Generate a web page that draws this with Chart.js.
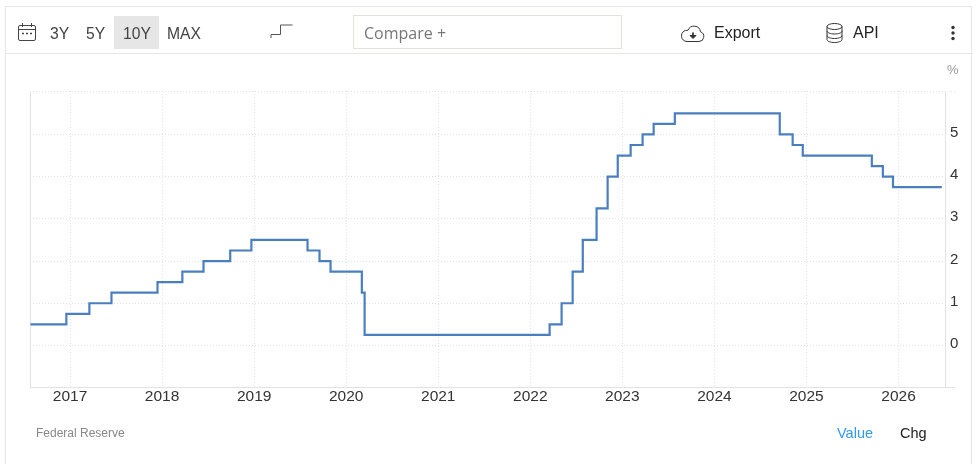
<!DOCTYPE html>
<html>
<head>
<meta charset="utf-8">
<script src="https://cdn.jsdelivr.net/npm/chart.js@4"></script>
<style>
  html, body { margin: 0; padding: 0; background: #fff; overflow: hidden; }
  #page { position: relative; width: 977px; height: 464px; overflow: hidden; }
  #frame { position: absolute; left: 5px; top: 6px; width: 967px; height: 470px; border: 1px solid #e6e6e6; box-sizing: border-box; }
  #divider { position: absolute; left: 5px; top: 53px; width: 968px; height: 1px; background: #e6e6e6; }
  #myChart { position: absolute; left: 0; top: 0; }
  .txt { position: absolute; white-space: nowrap; line-height: 20px; }
  .range { font: 15.7px/20px "Liberation Sans", sans-serif; color: #444; top: 24px; }
  .tool { font: 16px/20px "Liberation Sans", sans-serif; color: #222; top: 23px; }
  #active { position: absolute; left: 114px; top: 16px; width: 45px; height: 33px; background: #e6e6e6; }
  #compare { position: absolute; left: 353px; top: 15px; width: 269px; height: 34px; border: 1px solid #e2e2dc; box-sizing: border-box; font: 16px "Open Sans", sans-serif; color: #777; line-height: 35px; padding-left: 10px; }
  svg { position: absolute; }
</style>
</head>
<body>
<div id="page">
  <div id="frame"></div>
  <div id="divider"></div>
  <canvas id="myChart" width="977" height="464"></canvas>

  <svg style="left:17px;top:22px" width="22" height="22" fill="none" stroke="#444" stroke-width="1">
    <rect x="1.5" y="3.5" width="17" height="15" rx="1.5"/><path d="M1.5 7.5h17M5.5 1v4M14.5 1v4"/><path d="M5 11.5h2M9 11.5h2M13 11.5h2" stroke-width="1.4"/>
  </svg>
  <div id="active"></div>
  <span class="txt range" style="left:50px">3Y</span>
  <span class="txt range" style="left:86px">5Y</span>
  <span class="txt range" style="left:123px">10Y</span>
  <span class="txt range" style="left:167px">MAX</span>
  <svg style="left:268px;top:22px" width="26" height="18" fill="none" stroke="#555" stroke-width="1">
    <path d="M3 16v-3.500h9.500v-9.500h12"/>
  </svg>
  <div id="compare">Compare +</div>

  <svg style="left:680px;top:23px" width="26" height="20" fill="none" stroke="#333" stroke-width="1">
    <path d="M7 18.500h12a5 5 0 0 0 1.500-9.700a6.500 6.500 0 0 0-12.500-1.500a5.500 5.500 0 0 0-6.500 6a5.500 5.500 0 0 0 5.500 5.200z"/>
    <path d="M13 9.500v4" stroke-width="1.800"/><path d="M10 12.500h6l-3 3z" fill="#333"/>
  </svg>
  <span class="txt tool" style="left:714px">Export</span>
  <svg style="left:825px;top:22px" width="20" height="22" fill="none" stroke="#333" stroke-width="1">
    <ellipse cx="9.500" cy="4.500" rx="7.500" ry="3"/>
    <path d="M2 4.500v13c0 1.700 3.400 3 7.500 3s7.500-1.300 7.500-3v-13M2 9c0 1.700 3.400 3 7.500 3s7.500-1.300 7.500-3M2 13.500c0 1.700 3.400 3 7.500 3s7.500-1.300 7.500-3"/>
  </svg>
  <span class="txt tool" style="left:853px">API</span>
  <svg style="left:950px;top:25px" width="6" height="16" fill="#333">
    <circle cx="3" cy="2.500" r="1.700"/><circle cx="3" cy="8" r="1.700"/><circle cx="3" cy="13.500" r="1.700"/>
  </svg>

  <span class="txt" style="left:947px;top:60px;font:13px 'Liberation Sans',sans-serif;line-height:20px;color:#999">%</span>
  <span class="txt" style="left:36px;top:423px;font:12px 'Liberation Sans',sans-serif;line-height:20px;color:#888">Federal Reserve</span>
  <span class="txt" style="left:837px;top:423px;font:14.500px 'Liberation Sans',sans-serif;line-height:20px;color:#3399f3">Value</span>
  <span class="txt" style="left:900px;top:423px;font:14.500px 'Liberation Sans',sans-serif;line-height:20px;color:#222">Chg</span>
</div>

<script>
// upper bound of the target range
const rateYears = [2016.57, 2016.96, 2017.21, 2017.45, 2017.95, 2018.22, 2018.45, 2018.74, 2018.97,
  2019.58, 2019.71, 2019.83, 2020.17, 2020.20, 2022.21, 2022.34, 2022.46, 2022.57, 2022.72, 2022.84,
  2022.95, 2023.09, 2023.22, 2023.34, 2023.57, 2024.71, 2024.85, 2024.96, 2025.71, 2025.83, 2025.94, 2026.47]
const rateValues = [0.5, 0.75, 1, 1.25, 1.5, 1.75, 2, 2.25, 2.5,
  2.25, 2, 1.75, 1.25, 0.25, 0.5, 1, 1.75, 2.5, 3.25, 4,
  4.5, 4.75, 5, 5.25, 5.5, 5, 4.75, 4.5, 4.25, 4, 3.75, 3.75]
const yearTicks = [2017, 2018, 2019, 2020, 2021, 2022, 2023, 2024, 2025, 2026]
const rateTicks = [0, 1, 2, 3, 4, 5]

const xMin = 2016.565
const xMax = 2026.505
const yMin = -0.985
const yMax = 6.03

const gridColor = '#e2e2e2'
const dotted = [1, 2]

const ctx = document.getElementById('myChart').getContext('2d')
new Chart(ctx, {
  type: 'line',
  data: {
    datasets: [{
      data: rateYears.map((year, i) => ({ x: year, y: rateValues[i] })),
      borderColor: '#4a7fbf',
      borderWidth: 2.2,
      pointRadius: 0,
      stepped: true,
      fill: false
    }]
  },
  options: {
    responsive: false,
    animation: false,
    layout: { padding: { left: 30, top: 91, right: 0, bottom: 0 } },
    plugins: { legend: { display: false }, tooltip: { enabled: false } },
    scales: {
      x: {
        type: 'linear',
        min: xMin,
        max: xMax,
        afterBuildTicks: axis => { axis.ticks = [xMin, ...yearTicks, xMax].map(value => ({ value })) },
        afterFit: axis => { axis.height = 77 },
        grid: {
          color: gridColor,
          drawTicks: false
        },
        border: {
          display: false,
          dash: c => (c.tick && yearTicks.includes(c.tick.value) ? dotted : [])
        },
        ticks: {
          autoSkip: false,
          maxRotation: 0,
          padding: 0,
          color: '#333',
          font: { family: 'Liberation Sans', size: 15.5 },
          callback: value => (yearTicks.includes(value) ? String(value) : '')
        }
      },
      y: {
        position: 'right',
        min: yMin,
        max: yMax,
        afterBuildTicks: axis => { axis.ticks = [yMin, ...rateTicks, yMax].map(value => ({ value })) },
        afterFit: axis => { axis.width = 32 },
        grid: {
          color: gridColor,
          tickLength: 10,
          tickColor: c => (c.tick && rateTicks.includes(c.tick.value) ? 'rgba(0,0,0,0)' : gridColor),
          tickBorderDash: c => (c.tick && c.tick.value === yMin ? [] : dotted)
        },
        border: {
          display: false,
          dash: c => (c.tick && c.tick.value === yMin ? [] : dotted)
        },
        ticks: {
          padding: -5,
          color: '#333',
          // two-line label with a tiny line height sits the digit just above its grid line
          font: { family: 'Liberation Sans', size: 15, lineHeight: 0.2 },
          callback: value => (rateTicks.includes(value) ? [String(value), ''] : '')
        }
      }
    }
  }
})
</script>
</body>
</html>
